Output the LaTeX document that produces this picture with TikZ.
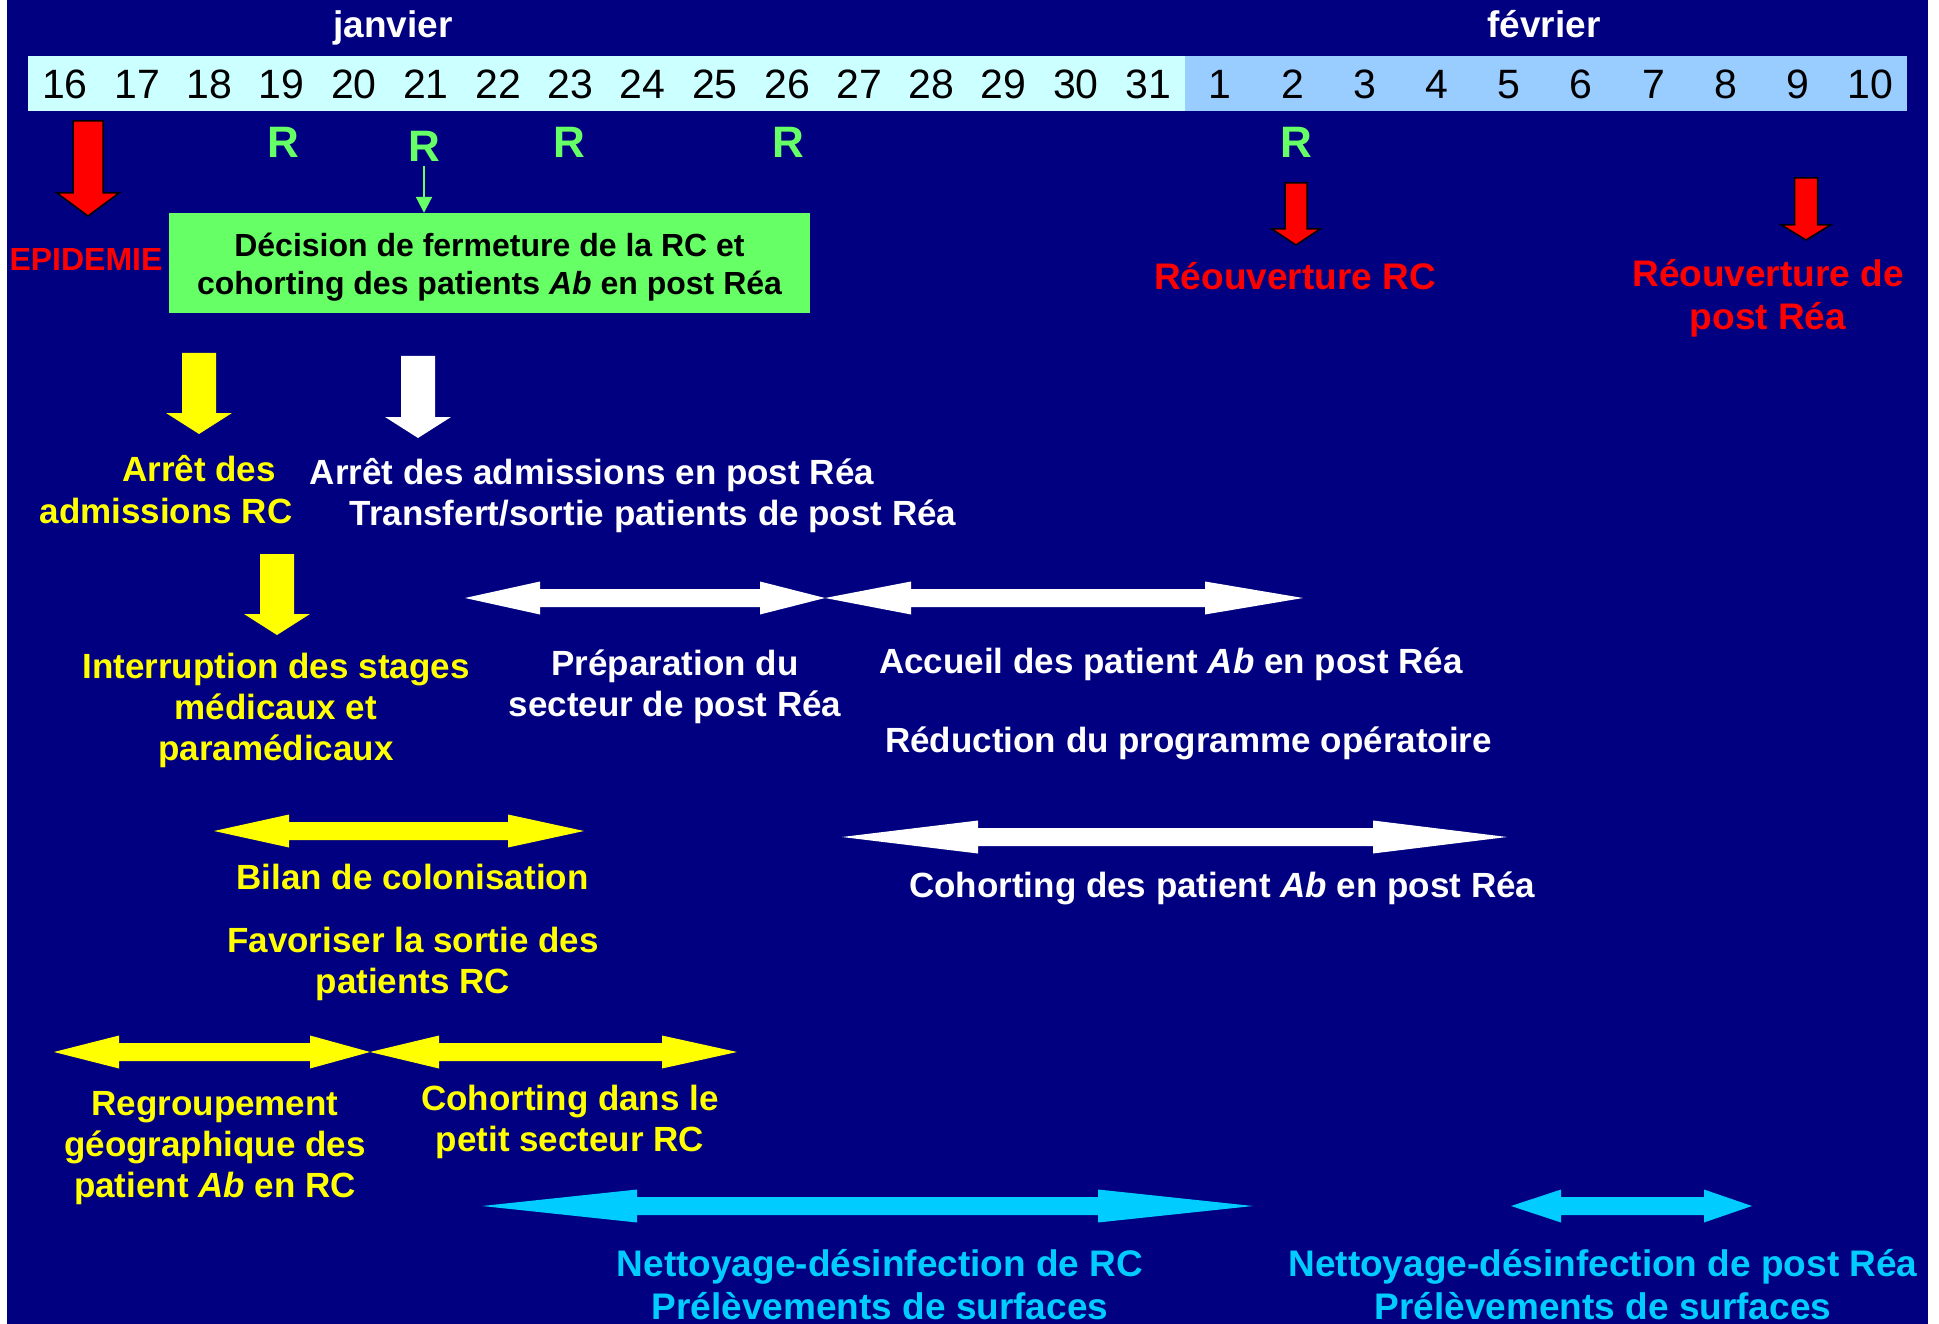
\documentclass[tikz,border=0pt]{standalone}
\usepackage{fontspec}
\setmainfont{Liberation Sans}
\usetikzlibrary{arrows.meta}

\definecolor{navy}{HTML}{000080}
\definecolor{janbar}{HTML}{CCFFFF}
\definecolor{febbar}{HTML}{99CCFF}
\definecolor{rgreen}{HTML}{66FF66}
\definecolor{nettoy}{HTML}{00CCFF}
\definecolor{jaune}{HTML}{FFFF00}

% block arrows: colour, left tip, right tip, middle y, left head, right head
\newcommand\dblarrow[6]{%
  \fill[#1] (#2,#4) -- (#2+#5,#4-16.5) -- (#2+#5,#4-9) -- (#3-#6,#4-9)
    -- (#3-#6,#4-16.5) -- (#3,#4) -- (#3-#6,#4+16.5) -- (#3-#6,#4+9)
    -- (#2+#5,#4+9) -- (#2+#5,#4+16.5) -- cycle;}
% down arrows: [opts] colour, x, top, head start, tip, shaft half, head half
\newcommand\dnarrow[8][]{%
  \path[fill=#2,#1] (#3-#7,#4) -- (#3+#7,#4) -- (#3+#7,#5) -- (#3+#8,#5)
    -- (#3,#6) -- (#3-#8,#5) -- (#3-#7,#5) -- cycle;}

\tikzset{
  day/.style={font=\fontsize{41}{41}\selectfont, anchor=base, inner sep=0},
  rmark/.style={font=\bfseries\fontsize{44}{44}\selectfont, text=rgreen, anchor=base, inner sep=0},
  txt/.style={font=\bfseries\fontsize{35}{41}\selectfont, anchor=base, inner sep=0, align=center},
  bigtxt/.style={font=\bfseries\fontsize{37}{43}\selectfont, anchor=base, inner sep=0, align=center},
}

\begin{document}
\begin{tikzpicture}[x=1pt,y=-1pt]
  \fill[white] (0,0) rectangle (1939,1324);
  \fill[navy] (7,0) rectangle (1928,1324);

  % calendar
  \node[bigtxt,text=white] (jan) at (393,38) {janvier};
  \node[bigtxt,text=white] (feb) at (1544,38) {février};
  \fill[janbar] (28,56) rectangle (1185,111);
  \fill[febbar] (1185,56) rectangle (1907,111);
  \foreach \d in {16,...,31}
    \node[day] (d\d) at ({65+72.2*(\d-16)},99) {\d};
  \foreach \d in {1,...,10}
    \node[day] (f\d) at ({65+72.2*(\d+15)},99) {\d};

  \node[rmark] (r19) at (283,158) {R};
  \node[rmark] (r21) at (424,162) {R};
  \node[rmark] (r23) at (569,158) {R};
  \node[rmark] (r26) at (788,158) {R};
  \node[rmark] (r2) at (1296,158) {R};

  % decision
  \dnarrow[draw=black,line width=1.5pt]{red}{88}{121}{193}{216}{15}{31}
  \node[font=\bfseries\fontsize{32}{32}\selectfont, text=red, anchor=base, inner sep=0] (epid) at (86,271) {EPIDEMIE};
  \node[fill=rgreen, minimum width=641, minimum height=100, inner sep=0] (decision) at (489.5,263) {};
  \node[inner sep=0, align=center, font=\bfseries\fontsize{32}{38}\selectfont] (decisiontxt)
    at ([yshift=-4pt]decision.center)
    {Décision de fermeture de la RC et\\cohorting des patients \textit{Ab} en post Réa};
  \draw[rgreen, line width=2pt, -{Triangle[length=16pt,width=16pt]}]
    ([yshift=-4pt]r21.south) -- (r21.south |- decision.north);

  % reopening
  \dnarrow[draw=black,line width=1.5pt]{red}{1296}{183}{229}{245}{11}{24}
  \node[bigtxt,text=red] (reorc) at (1295,290) {Réouverture RC};
  \dnarrow[draw=black,line width=1.5pt]{red}{1806}{178}{225}{240}{11.5}{24.5}
  \node[bigtxt,text=red] (reopost) at (1768,330) {Réouverture de\\post Réa};

  % admissions
  \dnarrow{jaune}{199}{353}{413}{434}{17}{33}
  \dnarrow{white}{418}{356}{417}{438}{17}{33}
  \node[txt,text=jaune] (arret1) at (199,481) {Arrêt des};
  \node[txt,text=jaune] (arret2) at (166,523) {admissions RC};
  \node[txt,text=white] (arretpost) at (592,484) {Arrêt des admissions en post Réa};
  \node[txt,text=white] (transfert) at (653,525) {Transfert/sortie patients de post Réa};

  \dnarrow{jaune}{277}{554}{614}{635}{17}{33}
  \node[txt,text=jaune] (stages) at (276,760) {Interruption des stages\\médicaux et\\paramédicaux};

  % post rea
  \dblarrow{white}{465}{825}{598}{75}{65}
  \dblarrow{white}{825}{1303}{598}{86}{98}
  \node[txt,text=white] (prepa) at (675,716) {Préparation du\\secteur de post Réa};
  \node[txt,text=white,anchor=base west] (accueil) at (879,673) {Accueil des patient \textit{Ab} en post Réa};
  \node[txt,text=white,anchor=base west] (reduc) at (885,752) {Réduction du programme opératoire};
  \dblarrow{white}{842}{1507}{837}{136}{134}
  \node[txt,text=white,anchor=base west] (cohpost) at (909,897) {Cohorting des patient \textit{Ab} en post Réa};

  % RC
  \dblarrow{jaune}{214}{584}{831}{75}{76}
  \node[txt,text=jaune] (bilan) at (412.5,889) {Bilan de colonisation};
  \node[txt,text=jaune] (favor) at (413,993) {Favoriser la sortie des\\patients RC};
  \dblarrow{jaune}{54}{370}{1052}{65}{60}
  \dblarrow{jaune}{370}{737}{1052}{69}{75}
  \node[txt,text=jaune] (regroup) at (215,1197) {Regroupement\\géographique des\\patient \textit{Ab} en RC};
  \node[txt,text=jaune] (cohrc) at (570,1151) {Cohorting dans le\\petit secteur RC};

  % cleaning
  \dblarrow{nettoy}{482}{1253}{1206}{155}{155}
  \dblarrow{nettoy}{1511}{1752}{1206}{50}{48}
  \node[bigtxt,text=nettoy] (netrc) at (880,1319) {Nettoyage-désinfection de RC\\Prélèvements de surfaces};
  \node[bigtxt,text=nettoy] (netpost) at (1603,1319) {Nettoyage-désinfection de post Réa\\Prélèvements de surfaces};
\end{tikzpicture}
\end{document}
